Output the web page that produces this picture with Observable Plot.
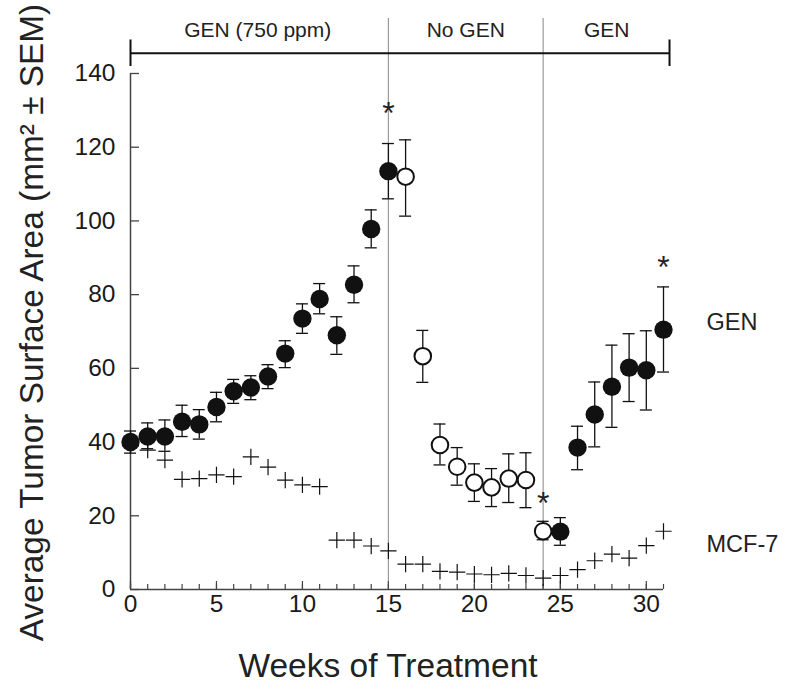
<!DOCTYPE html>
<html><head><meta charset="utf-8">
<script src="https://cdn.jsdelivr.net/npm/d3@7"></script>
<script src="https://cdn.jsdelivr.net/npm/@observablehq/plot@0.6"></script>
<style>body{margin:0;background:#fff}</style>
</head><body><div id="chart"></div>
<script>
// GEN phase 1 (weeks 0-15) and GEN phase 3 (weeks 25-31): filled circles
const genWeeks = [0,1,2,3,4,5,6,7,8,9,10,11,12,13,14,15,25,26,27,28,29,30,31];
const genMean  = [40,41.5,41.5,45.5,44.8,49.5,53.8,54.8,57.8,64,73.5,78.8,69,82.7,97.8,113.5,15.7,38.5,47.5,55,60.2,59.5,70.5];
const genLo    = [37,38.2,37.5,41.5,40.8,45.5,50.5,51.5,54.5,60.2,69.5,74.8,63.8,77.8,92.7,106,12,32.5,38.7,44,51,48.7,59];
const genHi    = [43,45.2,46,50,48.8,53.5,57,58,61,67.5,77.5,83,74,87.8,103,121,19.5,44.3,56.3,66.3,69.4,70.2,82.1];
// No GEN phase (weeks 16-24): open circles
const noGenWeeks = [16,17,18,19,20,21,22,23,24];
const noGenMean  = [112,63.3,39.2,33.3,29,27.7,30.1,29.7,15.8];
const noGenLo    = [101.3,56.2,33.8,28.3,23.9,22.5,23.6,22.2,13.5];
const noGenHi    = [122,70.3,44.9,38.5,34.1,32.8,36.8,37.1,18.5];
// MCF-7 control: plus markers
const mcfWeeks = d3.range(0, 32);
const mcfMean  = [39,37.8,35.1,29.9,30.1,31.1,30.6,36,33.2,29.7,28.4,27.9,13.4,13.4,11.8,10.5,6.9,6.9,4.9,4.7,4.2,4.0,4.4,3.8,3.1,3.8,5.4,7.8,9.6,8.5,11.9,15.8];
// significance asterisks
const starWeeks = [15, 24, 31];
const starY     = [130, 24, 88];
// treatment phases (top bracket)
const phaseBounds = [0, 15, 24, 31.35];
const phaseLabels = ["GEN (750 ppm)", "No GEN", "GEN"];
const phaseCenters = [7.4, 19.5, 27.7];
const bracketY = 145.5;
const capHalf = 3.6;
const phaseLabelY = 151.7;
const dividerTop = 154.9;
// series labels on the right
const seriesLabels = ["GEN", "MCF-7"];
const seriesLabelY = [72.4, 12.2];
const seriesLabelX = 33.5;
// ticks
const yTicks = [0,20,40,60,80,100,120,140];
const xMajor = [0,5,10,15,20,25,30];
const xMinor = d3.range(0, 32);

const gen = genWeeks.map((w,i)=>({week:w, mean:genMean[i], lo:genLo[i], hi:genHi[i]}));
const noGen = noGenWeeks.map((w,i)=>({week:w, mean:noGenMean[i], lo:noGenLo[i], hi:noGenHi[i]}));
const mcf = mcfWeeks.map((w,i)=>({week:w, mean:mcfMean[i]}));
const stars = starWeeks.map((w,i)=>({week:w, y:starY[i]}));
const phases = phaseLabels.map((l,i)=>({label:l, x:phaseCenters[i]}));
const caps = [phaseBounds[0], phaseBounds[phaseBounds.length-1]];
const series = seriesLabels.map((l,i)=>({label:l, y:seriesLabelY[i]}));
const errs = gen.concat(noGen);

const ink = "#111";
const chart = Plot.plot({
  width: 786, height: 689,
  marginLeft: 130, marginRight: 123, marginTop: 73, marginBottom: 100,
  x: {domain: [0, 31]},
  y: {domain: [0, 140]},
  style: {fontFamily: "'Liberation Sans', Arial, sans-serif", background: "#fff", color: ink},
  marks: [
    // phase dividers
    Plot.ruleX([15, 24], {x: d=>d, y1: 0, y2: dividerTop, stroke: "#9a9a9a", strokeWidth: 1.2}),
    // bracket
    Plot.ruleY([bracketY], {x1: phaseBounds[0], x2: phaseBounds[phaseBounds.length-1], stroke: ink, strokeWidth: 2.2}),
    Plot.ruleX(caps, {x: d=>d, y1: bracketY - capHalf, y2: bracketY + capHalf, stroke: ink, strokeWidth: 2}),
    Plot.text(phases, {x: "x", y: phaseLabelY, text: "label", fontSize: 21, fill: "#222"}),
    // axes lines
    Plot.ruleX([0], {y1: 0, y2: 140, stroke: "#444", strokeWidth: 1.5}),
    Plot.ruleY([0], {x1: 0, x2: 31, stroke: "#444", strokeWidth: 1.5}),
    Plot.axisY({ticks: yTicks, tickSize: -9, text: null, stroke: "#444", strokeWidth: 1.3}),
    Plot.axisY({ticks: yTicks, tickSize: 0, tickPadding: 15, fontSize: 24.5, label: null, fill: "#1a1a1a"}),
    Plot.axisX({ticks: xMinor, tickSize: -5, text: null, stroke: "#444", strokeWidth: 1.2}),
    Plot.axisX({ticks: xMajor, tickSize: -8, text: null, stroke: "#444", strokeWidth: 1.2}),
    Plot.axisX({ticks: xMajor, tickSize: 0, tickPadding: 5, fontSize: 24.5, label: null, fill: "#1a1a1a"}),
    // axis titles
    Plot.text(["Weeks of Treatment"], {frameAnchor: "bottom", dx: -9, dy: 87, text: d=>d, fontSize: 33.5, fill: "#222"}),
    Plot.text(["Average Tumor Surface Area (mm² ± SEM)"], {frameAnchor: "left", textAnchor: "middle", dx: -98, dy: -9, rotate: -90, text: d=>d, fontSize: 33.4, fill: "#222"}),
    // error bars
    Plot.ruleX(errs, {x: "week", y1: "lo", y2: "hi", stroke: ink, strokeWidth: 1.3}),
    Plot.ruleY(errs, {y: "lo", x1: "week", x2: "week", insetLeft: -6, insetRight: -6, stroke: ink, strokeWidth: 1.3}),
    Plot.ruleY(errs, {y: "hi", x1: "week", x2: "week", insetLeft: -6, insetRight: -6, stroke: ink, strokeWidth: 1.3}),
    // MCF-7
    Plot.dot(mcf, {x: "week", y: "mean", symbol: "plus", r: 5.3, stroke: ink, strokeWidth: 1.2}),
    // No GEN open circles
    Plot.dot(noGen, {x: "week", y: "mean", r: 8.3, fill: "#fff", stroke: ink, strokeWidth: 2}),
    // GEN filled circles
    Plot.dot(gen, {x: "week", y: "mean", r: 9.2, fill: ink, stroke: "none"}),
    // asterisks
    Plot.text(stars, {x: "week", y: "y", text: () => "*", fontSize: 32, dy: 3, fill: "#222"}),
    // series labels
    Plot.text(series, {x: seriesLabelX, y: "y", text: "label", textAnchor: "start", fontSize: 23.5, fill: "#222"})
  ]
});
document.getElementById("chart").appendChild(chart);
</script>
</body></html>
